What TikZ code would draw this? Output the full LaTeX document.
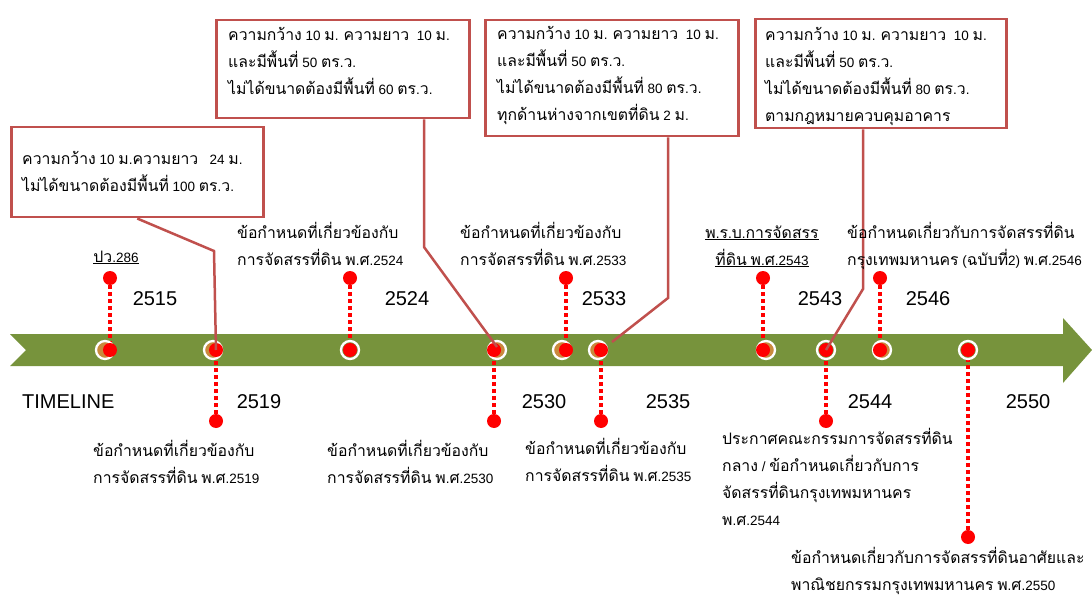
\documentclass[tikz,border=0pt]{standalone}
\usepackage{fontspec}
\setmainfont{Liberation Sans}
\newfontfamily\thaifont[Script=Thai,Scale=1.17]{Loma}
\newfontfamily\latinfont{Liberation Sans}
\newXeTeXintercharclass\thaiclass
\newcount\thaicnt
\thaicnt="0E01
\loop
  \XeTeXcharclass\thaicnt=\thaiclass
  \ifnum\thaicnt<"0E5B
  \advance\thaicnt by 1
\repeat
\XeTeXinterchartoks 0 \thaiclass = {\thaifont}
\XeTeXinterchartoks 4095 \thaiclass = {\thaifont}
\XeTeXinterchartoks \thaiclass 0 = {\latinfont}
\XeTeXinterchartoks \thaiclass 4095 = {\latinfont}
\XeTeXinterchartokenstate=1
\usetikzlibrary{calc}
\definecolor{boxred}{HTML}{C0504D}
\definecolor{bandgreen}{HTML}{77933C}
\definecolor{ringor}{HTML}{C98A3C}
\definecolor{dotred}{HTML}{FF0000}
\tikzset{
  box/.style={draw=boxred, line width=2.5pt, fill=white, rectangle, inner sep=0},
  conn/.style={draw=boxred, line width=2.5pt},
  rdot/.style={circle, fill=dotred, inner sep=0, minimum size=14pt},
  ring/.style={circle, draw=white, line width=2.3pt, fill=ringor, inner sep=0, minimum size=18pt},
  plainring/.style={circle, draw=white, line width=2.3pt, fill=bandgreen, inner sep=0, minimum size=18pt},
  dots/.style={draw=dotred, line width=3.5pt, dash pattern=on 4pt off 3pt},
  thai/.style={font=\latinfont\fontsize{13.5}{27}\selectfont, align=left, anchor=base west, inner sep=0},
  year/.style={font=\fontsize{20}{24}\selectfont, anchor=base, inner sep=0}
}
\begin{document}
\begin{tikzpicture}[x=1pt,y=-1pt]
\useasboundingbox (0,0) rectangle (1092,596);
% band arrow
\fill[bandgreen] (10,334) -- (1063,334) -- (1063,318) -- (1092,350) -- (1063,383) -- (1063,366) -- (10,366) -- (26,350) -- cycle;
% top events: year / ring x / red x
\foreach \yr/\rx/\dx in {2515/105/110, 2533/562/566, 2543/766/763, 2546/882/880}{
  \node[rdot] (t\yr) at (\dx,278) {};
  \draw[dots] (t\yr.center) -- (\dx,350);
  \node[ring] (r\yr) at (\rx,350) {};
  \node[rdot] (e\yr) at (\dx,350) {};
}
\node[rdot] (t2524) at (350,278) {};
\draw[dots] (t2524.center) -- (350,350);
\node[plainring] (r2524) at (350,350) {};
\node[rdot] (e2524) at (350,350) {};
% bottom events
\foreach \yr/\rx/\dx in {2519/213/216, 2530/497/494, 2535/598/601}{
  \node[rdot] (d\yr) at (\dx,421) {};
  \draw[dots] (d\yr.center) -- (\dx,350);
  \node[ring] (r\yr) at (\rx,350) {};
  \node[rdot] (e\yr) at (\dx,350) {};
}
\node[rdot] (d2544) at (826,421) {};
\draw[dots] (d2544.center) -- (826,350);
\node[plainring] (r2544) at (826,350) {};
\node[rdot] (e2544) at (826,350) {};
\node[rdot] (d2550) at (968,537) {};
\draw[dots] (d2550.center) -- (968,350);
\node[plainring] (r2550) at (968,350) {};
\node[rdot] (e2550) at (968,350) {};
% boxes
\node[box, minimum width=252, minimum height=90, anchor=north west] (b1) at (10,126) {};
\node[box, minimum width=253, minimum height=98, anchor=north west] (b2) at (215,19) {};
\node[box, minimum width=253, minimum height=116, anchor=north west] (b3) at (484,19) {};
\node[box, minimum width=251, minimum height=109, anchor=north west] (b4) at (754,18) {};
% connectors
\coordinate (k1) at (214,251);
\coordinate (k2) at (424,247);
\coordinate (k3) at (668,298);
\coordinate (k4) at (863,289);
\draw[conn] (b1.south) -- (k1) -- (e2519.center);
\draw[conn] (b2.south -| k2) -- (k2) -- ($(e2530.center)+(3,-3)$);
\draw[conn] (b3.south -| k3) -- (k3) -- ($(e2535.center)+(11,-8)$);
\draw[conn] (b4.south -| k4) -- (k4) -- (e2544.center);
% box texts (anchor = baseline of last line)
\node[thai] (tx1) at (22,192) {ความกว้าง 10 ม.ความยาว \ \ 24 ม.\\ไม่ได้ขนาดต้องมีพื้นที่ 100 ตร.ว.};
\node[thai] (tx2) at (228,95) {ความกว้าง 10 ม. ความยาว \ 10 ม.\\และมีพื้นที่ 50 ตร.ว.\\ไม่ได้ขนาดต้องมีพื้นที่ 60 ตร.ว.};
\node[thai] (tx3) at (497,121) {ความกว้าง 10 ม. ความยาว \ 10 ม.\\และมีพื้นที่ 50 ตร.ว.\\ไม่ได้ขนาดต้องมีพื้นที่ 80 ตร.ว.\\ทุกด้านห่างจากเขตที่ดิน 2 ม.};
\node[thai] (tx4) at (765,122) {ความกว้าง 10 ม. ความยาว \ 10 ม.\\และมีพื้นที่ 50 ตร.ว.\\ไม่ได้ขนาดต้องมีพื้นที่ 80 ตร.ว.\\ตามกฎหมายควบคุมอาคาร};
% labels above
\node[thai, anchor=base] (l2515) at (116,262) {\underline{ปว.286}};
\node[thai] (l2524) at (237,265) {ข้อกำหนดที่เกี่ยวข้องกับ\\การจัดสรรที่ดิน พ.ศ.2524};
\node[thai] (l2533) at (460,265) {ข้อกำหนดที่เกี่ยวข้องกับ\\การจัดสรรที่ดิน พ.ศ.2533};
\node[thai, align=center, anchor=base] (l2543) at (762,265) {\underline{พ.ร.บ.การจัดสรร}\\\underline{ที่ดิน พ.ศ.2543}};
\node[thai] (l2546) at (847,265) {ข้อกำหนดเกี่ยวกับการจัดสรรที่ดิน\\กรุงเทพมหานคร (ฉบับที่2) พ.ศ.2546};
% labels below
\node[thai] (l2519) at (93,483) {ข้อกำหนดที่เกี่ยวข้องกับ\\การจัดสรรที่ดิน พ.ศ.2519};
\node[thai] (l2530) at (327,483) {ข้อกำหนดที่เกี่ยวข้องกับ\\การจัดสรรที่ดิน พ.ศ.2530};
\node[thai] (l2535) at (525,481) {ข้อกำหนดที่เกี่ยวข้องกับ\\การจัดสรรที่ดิน พ.ศ.2535};
\node[thai] (l2544) at (722,525) {ประกาศคณะกรรมการจัดสรรที่ดิน\\กลาง / ข้อกำหนดเกี่ยวกับการ\\จัดสรรที่ดินกรุงเทพมหานคร\\พ.ศ.2544};
\node[thai] (l2550) at (791,590) {ข้อกำหนดเกี่ยวกับการจัดสรรที่ดินอาศัยและ\\พาณิชยกรรมกรุงเทพมหานคร พ.ศ.2550};
% years
\node[year] (y2515) at (155,305) {2515};
\node[year] (y2524) at (407,305) {2524};
\node[year] (y2533) at (604,305) {2533};
\node[year] (y2543) at (820,305) {2543};
\node[year] (y2546) at (928,305) {2546};
\node[year] (y2519) at (259,408) {2519};
\node[year] (y2530) at (544,408) {2530};
\node[year] (y2535) at (668,408) {2535};
\node[year] (y2544) at (870,408) {2544};
\node[year] (y2550) at (1028,408) {2550};
\node[year, anchor=base west] (tl) at (22,408) {TIMELINE};
\end{tikzpicture}
\end{document}
